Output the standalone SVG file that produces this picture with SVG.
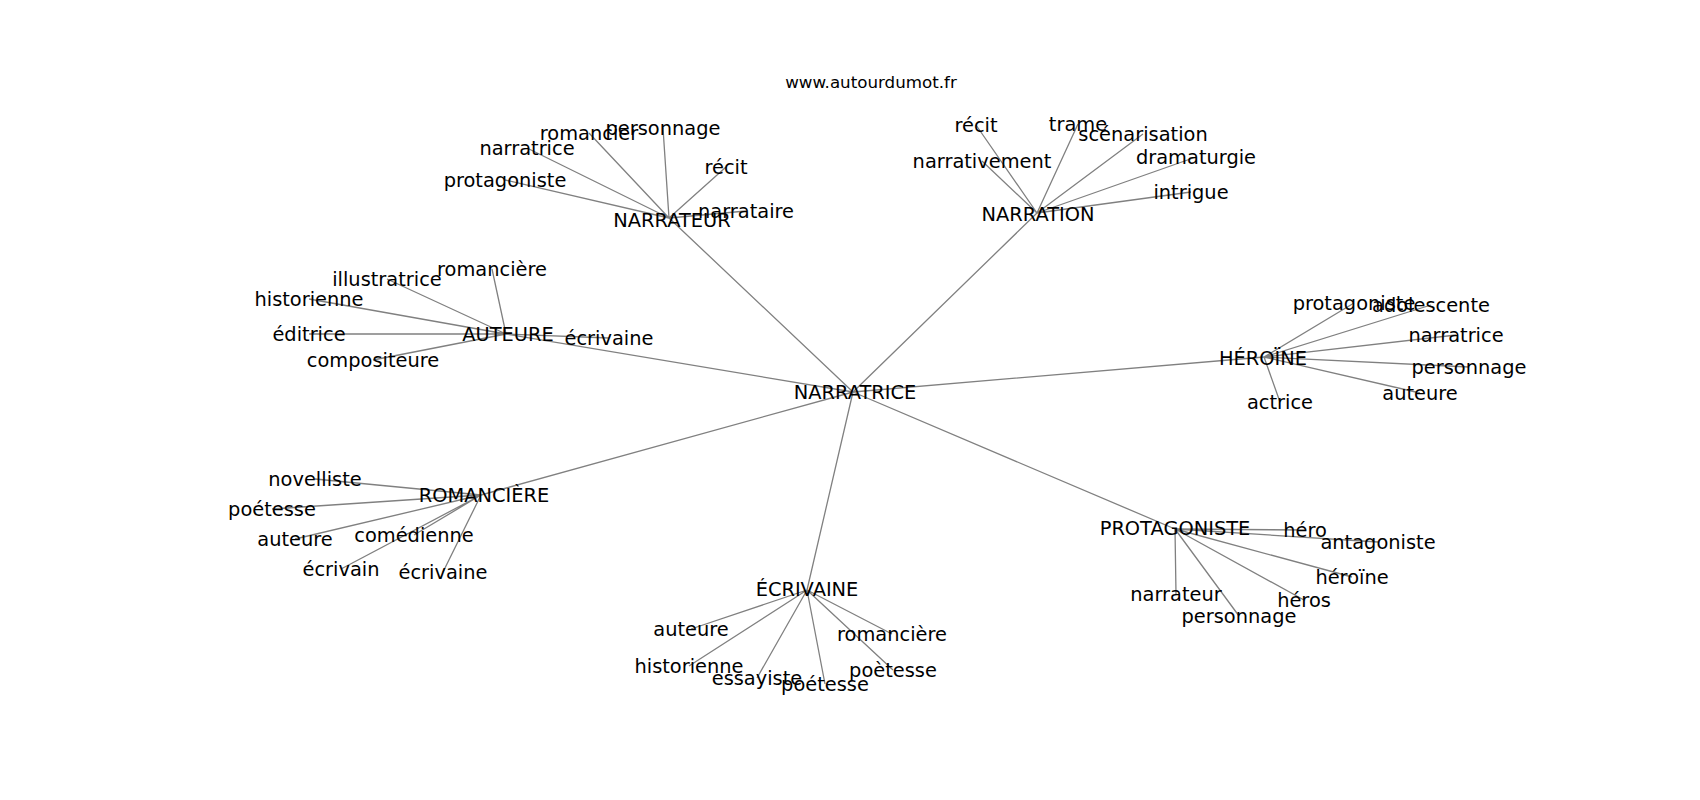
<svg xmlns="http://www.w3.org/2000/svg" width="1700" height="800" viewBox="0 0 1700 800">
<style>
.e{stroke:#808080;stroke-width:1.3;fill:none}
text{font-family:"DejaVu Sans","Liberation Sans",sans-serif;fill:#000;text-anchor:middle}
.n text{font-size:19.4px}
.t{font-size:16.7px}
</style>
<rect width="1700" height="800" fill="#fff"/>
<text class="t" x="871" y="88">www.autourdumot.fr</text>
<g id="edges">
<path class="e" d="M853 392L669 218M853 392L1037 213M853 392L506 334M853 392L1264 357M853 392L481 495M853 392L807 590M853 392L1175 529"/>
<path class="e" d="M669 218L589 133M669 218L663 128M669 218L527 148M669 218L505 180M669 218L726 167M669 218L746 211"/>
<path class="e" d="M1037 213L976 125M1037 213L1078 124M1037 213L1143 134M1037 213L982 161M1037 213L1196 157M1037 213L1191 192"/>
<path class="e" d="M506 334L492 269M506 334L387 279M506 334L309 299M506 334L309 334M506 334L609 338M506 334L373 360"/>
<path class="e" d="M1264 357L1354 303M1264 357L1431 305M1264 357L1456 335M1264 357L1469 367M1264 357L1420 393M1264 357L1280 402"/>
<path class="e" d="M481 495L315 479M481 495L272 509M481 495L295 539M481 495L414 535M481 495L341 569M481 495L443 572"/>
<path class="e" d="M807 590L691 629M807 590L689 666M807 590L757 678M807 590L825 684M807 590L892 634M807 590L893 670"/>
<path class="e" d="M1175 529L1305 530M1175 529L1378 542M1175 529L1352 577M1175 529L1304 600M1175 529L1176 594M1175 529L1239 616"/>
</g>
<g class="n">
<g id="n-narratrice"><text x="855" y="399">NARRATRICE</text></g>
<g id="n-narrateur"><text x="672" y="227">NARRATEUR</text></g>
<g id="n-narration"><text x="1038" y="221">NARRATION</text></g>
<g id="n-auteure"><text x="508" y="341">AUTEURE</text></g>
<g id="n-heroine"><text x="1263" y="365">HÉROÏNE</text></g>
<g id="n-romanciere"><text x="484" y="502">ROMANCIÈRE</text></g>
<g id="n-ecrivaine"><text x="807" y="596">ÉCRIVAINE</text></g>
<g id="n-protagoniste"><text x="1175" y="535">PROTAGONISTE</text></g>

<g id="l1-romancier"><text x="589" y="140">romancier</text></g>
<g id="l1-personnage"><text x="663" y="135">personnage</text></g>
<g id="l1-narratrice"><text x="527" y="155">narratrice</text></g>
<g id="l1-protagoniste"><text x="505" y="187">protagoniste</text></g>
<g id="l1-recit"><text x="726" y="174">récit</text></g>
<g id="l1-narrataire"><text x="746" y="218">narrataire</text></g>

<g id="l2-recit"><text x="976" y="132">récit</text></g>
<g id="l2-trame"><text x="1078" y="131">trame</text></g>
<g id="l2-scenarisation"><text x="1143" y="141">scénarisation</text></g>
<g id="l2-narrativement"><text x="982" y="168">narrativement</text></g>
<g id="l2-dramaturgie"><text x="1196" y="164">dramaturgie</text></g>
<g id="l2-intrigue"><text x="1191" y="199">intrigue</text></g>

<g id="l3-romanciere"><text x="492" y="276">romancière</text></g>
<g id="l3-illustratrice"><text x="387" y="286">illustratrice</text></g>
<g id="l3-historienne"><text x="309" y="306">historienne</text></g>
<g id="l3-editrice"><text x="309" y="341">éditrice</text></g>
<g id="l3-ecrivaine"><text x="609" y="345">écrivaine</text></g>
<g id="l3-compositeure"><text x="373" y="367">compositeure</text></g>

<g id="l4-protagoniste"><text x="1354" y="310">protagoniste</text></g>
<g id="l4-adolescente"><text x="1431" y="312">adolescente</text></g>
<g id="l4-narratrice"><text x="1456" y="342">narratrice</text></g>
<g id="l4-personnage"><text x="1469" y="374">personnage</text></g>
<g id="l4-auteure"><text x="1420" y="400">auteure</text></g>
<g id="l4-actrice"><text x="1280" y="409">actrice</text></g>

<g id="l5-novelliste"><text x="315" y="486">novelliste</text></g>
<g id="l5-poetesse"><text x="272" y="516">poétesse</text></g>
<g id="l5-auteure"><text x="295" y="546">auteure</text></g>
<g id="l5-comedienne"><text x="414" y="542">comédienne</text></g>
<g id="l5-ecrivain"><text x="341" y="576">écrivain</text></g>
<g id="l5-ecrivaine"><text x="443" y="579">écrivaine</text></g>

<g id="l6-auteure"><text x="691" y="636">auteure</text></g>
<g id="l6-historienne"><text x="689" y="673">historienne</text></g>
<g id="l6-essayiste"><text x="757" y="685">essayiste</text></g>
<g id="l6-poetesse"><text x="825" y="691">poétesse</text></g>
<g id="l6-romanciere"><text x="892" y="641">romancière</text></g>
<g id="l6-poetesse2"><text x="893" y="677">poètesse</text></g>

<g id="l7-hero"><text x="1305" y="537">héro</text></g>
<g id="l7-antagoniste"><text x="1378" y="549">antagoniste</text></g>
<g id="l7-heroine"><text x="1352" y="584">héroïne</text></g>
<g id="l7-heros"><text x="1304" y="607">héros</text></g>
<g id="l7-narrateur"><text x="1176" y="601">narrateur</text></g>
<g id="l7-personnage"><text x="1239" y="623">personnage</text></g>
</g>
</svg>
